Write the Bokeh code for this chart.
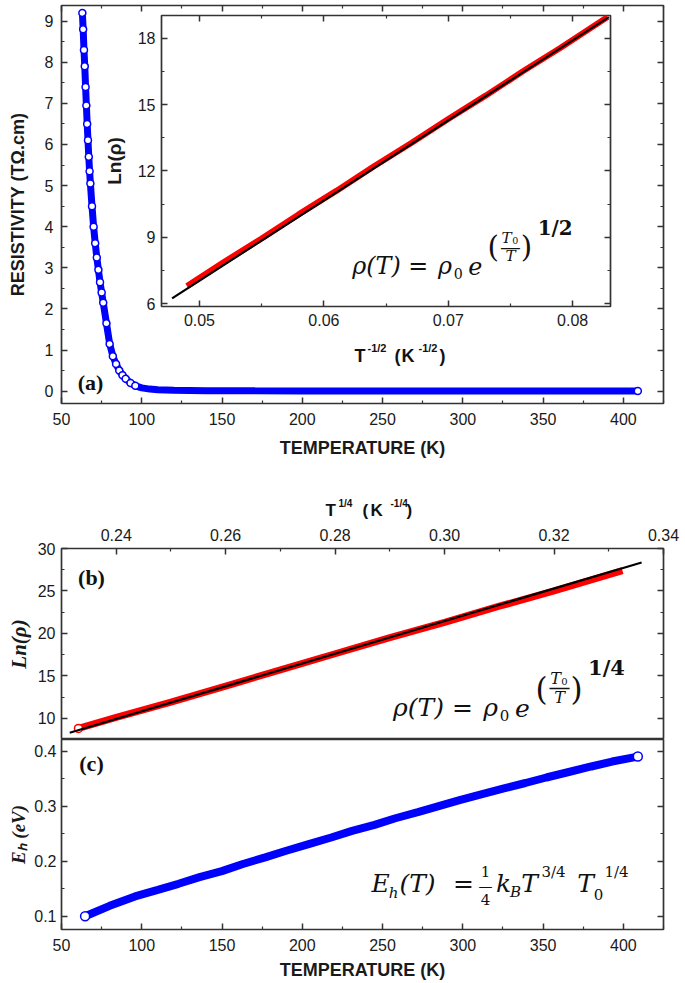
import math
from bokeh.plotting import figure
from bokeh.models import Range1d, LinearAxis, Label, GridBox, FixedTicker, PrintfTickFormatter
from bokeh.embed import file_html
from bokeh.resources import INLINE

# ---------------- data ----------------
temp_a = [63.0, 63.5, 64.0, 64.5, 65.0, 65.5, 66.0, 66.5, 67.0, 67.5, 68.0, 69.0, 70.0,
          71.0, 72.0, 73.0, 74.0, 75.0, 76.0, 78.0, 80.0, 82.0, 84.0, 86.0, 88.0, 90.0,
          93.0, 96.0, 100.0, 105.0, 110.0, 120.0, 140.0, 170.0, 200.0, 250.0, 300.0,
          350.0, 400.0, 409.0]
resistivity_a = [9.20, 8.80, 8.30, 7.90, 7.40, 6.95, 6.50, 6.10, 5.70, 5.35, 5.05, 4.50,
                 4.00, 3.60, 3.25, 2.95, 2.65, 2.40, 2.15, 1.65, 1.15, 0.85, 0.66, 0.50,
                 0.39, 0.30, 0.20, 0.13, 0.08, 0.05, 0.035, 0.02, 0.012, 0.008, 0.006,
                 0.005, 0.004, 0.004, 0.003, 0.003]

inset_x = [0.0490, 0.0520, 0.0550, 0.0580, 0.0610, 0.0640, 0.0670, 0.0700, 0.0730,
           0.0760, 0.0790, 0.0828]
inset_lnrho = [6.80, 7.90, 8.95, 10.05, 11.10, 12.20, 13.25, 14.35, 15.40, 16.50,
               17.55, 18.95]
inset_fit_x = [0.0478, 0.0829]
inset_fit_y = [6.25, 18.95]

b_x = [0.2331, 0.2400, 0.2500, 0.2600, 0.2700, 0.2800, 0.2900, 0.3000, 0.3100,
       0.3200, 0.3325]
b_lnrho = [8.8, 10.1, 11.9, 13.8, 15.7, 17.6, 19.5, 21.3, 23.2, 25.0, 27.4]
b_fit_x = [0.2315, 0.3360]
b_fit_y = [8.3, 28.35]

temp_c = [64.7, 80, 95.8, 110, 122.9, 136, 149.9, 163, 176.9, 190, 204, 218, 231, 245,
          258, 272, 285, 298, 312, 325, 339, 352, 366, 380, 393, 409]
eh_c = [0.100, 0.119, 0.136, 0.148, 0.159, 0.171, 0.182, 0.195, 0.207, 0.219, 0.231,
        0.243, 0.255, 0.266, 0.278, 0.289, 0.300, 0.311, 0.322, 0.332, 0.342, 0.352,
        0.362, 0.372, 0.381, 0.390]

temp_ticks = [50, 100, 150, 200, 250, 300, 350, 400]
res_ticks = [0, 1, 2, 3, 4, 5, 6, 7, 8, 9]
inset_x_ticks = [0.05, 0.06, 0.07, 0.08]
inset_y_ticks = [6, 9, 12, 15, 18]
b_x_ticks = [0.24, 0.26, 0.28, 0.30, 0.32, 0.34]
b_y_ticks = [10, 15, 20, 25, 30]
c_y_ticks = [0.1, 0.2, 0.3, 0.4]

# ---------------- styling helpers ----------------
FRAME = "#333333"
TXT = "#1a1a1a"
SANS = "Liberation Sans"
SERIF = "Liberation Serif"
MATH = "DejaVu Serif"
BLUE = "#0000ff"
RED = "#ff0000"
W, H = 685, 983
FRAME_LEFT, FRAME_BOTTOM = 57, 929   # page position of the shared (aligned) plot frame


def minors(t):
    step = t[1] - t[0]
    return [t[0] - step / 2] + [a + step / 2 for a in t]


def style_axis(ax, ticks, fmt, show=True, fs="16px", standoff=8):
    ax.ticker = FixedTicker(ticks=ticks, minor_ticks=minors(ticks))
    ax.formatter = PrintfTickFormatter(format=fmt)
    ax.axis_line_color = None
    ax.major_tick_in = 6
    ax.major_tick_out = 0
    ax.minor_tick_in = 3
    ax.minor_tick_out = 0
    ax.major_tick_line_color = FRAME
    ax.major_tick_line_width = 1.5
    ax.minor_tick_line_color = FRAME
    ax.minor_tick_line_width = 1.2
    ax.major_label_text_font = SANS
    ax.major_label_text_color = TXT
    if show:
        ax.major_label_text_font_size = fs
        ax.major_label_standoff = standoff
    else:
        ax.major_label_text_font_size = "1px"
        ax.major_label_text_alpha = 0
        ax.major_label_standoff = 0


def title_style(ax, text, size, font=SANS, style="bold", standoff=10):
    ax.axis_label = text
    ax.axis_label_text_font = font
    ax.axis_label_text_font_style = style
    ax.axis_label_text_font_size = size
    ax.axis_label_text_color = TXT
    ax.axis_label_standoff = standoff


def make_fig(w, h, xr, yr, top, right, bottom, left, **kw):
    p = figure(width=w, height=h, x_range=xr, y_range=yr, output_backend="svg",
               toolbar_location=None, min_border_top=top, min_border_right=right,
               min_border_bottom=bottom, min_border_left=left, **kw)
    p.grid.visible = False
    p.outline_line_color = FRAME
    p.outline_line_width = 1.7
    return p


def mirror(p, side, ticks):
    ax = LinearAxis()
    style_axis(ax, ticks, "%g", show=False)
    p.add_layout(ax, side)


# transparent overlay for free-standing texts (its frame gets aligned with the panels)
ov = figure(width=W, height=H, x_range=Range1d(0, 1), y_range=Range1d(0, 1),
            output_backend="svg", toolbar_location=None, min_border=0, title=None,
            x_axis_location=None, y_axis_location=None)
ov.grid.visible = False
ov.outline_line_color = None
ov.background_fill_color = None
ov.border_fill_color = None


def put(px, py, text, size, font=MATH, style="italic", align="center", angle=0.0,
        color="#111111"):
    ov.add_layout(Label(x=px - FRAME_LEFT, y=FRAME_BOTTOM - py, x_units="screen",
                        y_units="screen", text=text, text_font=font,
                        text_font_size=f"{size:.1f}px", text_font_style=style,
                        text_align=align, text_baseline="middle", angle=angle,
                        text_color=color))


def formula_rho(ox, oy, s, exp_text):
    put(ox, oy, "ρ(T)", 25 * s)
    put(ox + 44 * s, oy, "=", 25 * s, style="normal")
    put(ox + 72 * s, oy, "ρ", 25 * s)
    put(ox + 86 * s, oy + 8 * s, "0", 15 * s, style="normal")
    put(ox + 104 * s, oy, "e", 25 * s)
    put(ox + 123 * s, oy - 19 * s, "(", 31 * s, style="normal")
    put(ox + 137 * s, oy - 29 * s, "T", 16 * s)
    put(ox + 146 * s, oy - 26 * s, "0", 10 * s, style="normal")
    put(ox + 141 * s, oy - 20 * s, "—", 22 * s, style="normal")
    put(ox + 141 * s, oy - 10 * s, "T", 16 * s)
    put(ox + 158 * s, oy - 19 * s, ")", 31 * s, style="normal")
    put(ox + 188 * s, oy - 40 * s, exp_text, 21 * s, style="bold")


# ---------------- panel (a) ----------------
pa = make_fig(W, 465, Range1d(50, 425), Range1d(-0.3, 9.38), 2, 22, 62, 57)
style_axis(pa.xaxis[0], temp_ticks, "%d", standoff=9)
title_style(pa.xaxis[0], "TEMPERATURE (K)", "18px", standoff=10)
style_axis(pa.yaxis[0], res_ticks, "%d", standoff=8)
title_style(pa.yaxis[0], "RESISTIVITY (TΩ.cm)", "18px", standoff=14)
mirror(pa, "right", res_ticks)
mirror(pa, "above", temp_ticks)

pa.line(temp_a, resistivity_a, line_color=BLUE, line_width=7)
sel = [i for i, t in enumerate(temp_a) if t <= 96 or i == len(temp_a) - 1]
pa.scatter([temp_a[i] for i in sel], [resistivity_a[i] for i in sel], marker="circle",
           size=7, line_color=BLUE, fill_color="white", line_width=1.5)

# ---------------- inset ----------------
pin = make_fig(532, 358, Range1d(0.04695, 0.08304), Range1d(5.88, 19.02), 5, 10, 60, 61)
pin.background_fill_color = None
pin.border_fill_color = None
style_axis(pin.xaxis[0], inset_x_ticks, "%.2f", standoff=7)
style_axis(pin.yaxis[0], inset_y_ticks, "%d", standoff=6)
title_style(pin.yaxis[0], "Ln(ρ)", "19px", standoff=10)
mirror(pin, "right", inset_y_ticks)
mirror(pin, "above", inset_x_ticks)
pin.line(inset_x, inset_lnrho, line_color=RED, line_width=6)
pin.line(inset_fit_x, inset_fit_y, line_color="black", line_width=2.2)
pin.margin = (10, 0, 0, 100)

# ---------------- panel (b) ----------------
pb = make_fig(W, 274, Range1d(0.23, 0.34), Range1d(7.5, 30), 83, 22, 0, 57,
              x_axis_location="above")
style_axis(pb.xaxis[0], b_x_ticks, "%.2f", standoff=8)
style_axis(pb.yaxis[0], b_y_ticks, "%d", standoff=6)
title_style(pb.yaxis[0], "Ln(ρ)", "21px", font=SERIF, style="bold italic", standoff=4)
mirror(pb, "right", b_y_ticks)
pb.line(b_x, b_lnrho, line_color=RED, line_width=7)
pb.scatter(b_x[:1], b_lnrho[:1], marker="circle", size=8, line_color=RED,
           fill_color="white", line_width=1.5)
pb.line(b_fit_x, b_fit_y, line_color="black", line_width=2.2)

# ---------------- panel (c) ----------------
pc = make_fig(W, 244, Range1d(50, 425), Range1d(0.076, 0.421), 0, 22, 54, 57)
style_axis(pc.xaxis[0], temp_ticks, "%d", standoff=9)
title_style(pc.xaxis[0], "TEMPERATURE (K)", "18px", standoff=6)
style_axis(pc.yaxis[0], c_y_ticks, "%.1f", standoff=5)
title_style(pc.yaxis[0], "Eₕ (eV)", "19px", font=SERIF, style="bold italic", standoff=2)
mirror(pc, "right", c_y_ticks)
pc.line(temp_c, eh_c, line_color=BLUE, line_width=8)
pc.scatter([temp_c[0], temp_c[-1]], [eh_c[0], eh_c[-1]], marker="circle", size=9,
           line_color=BLUE, fill_color="white", line_width=1.5)

# ---------------- free texts ----------------
put(86, 382, "(a)", 22, font=SERIF, style="bold")
put(87, 577, "(b)", 22, font=SERIF, style="bold")
put(87, 763, "(c)", 22, font=SERIF, style="bold")

for px, py, t, sz in [(350, 355, "T", 18), (363, 347, "-1/2", 11), (390, 355, "(", 18),
                      (397, 355, "K", 18), (414, 347, "-1/2", 11), (435, 355, ")", 18)]:
    put(px, py, t, sz, font=SANS, style="bold", align="left")

for px, py, t, sz in [(321, 510, "T", 17), (334, 503, "1/4", 10), (358, 510, "(", 17),
                      (366, 510, "K", 17), (386, 503, "-1/4", 10), (402, 510, ")", 17)]:
    put(px, py, t, sz, font=SANS, style="bold", align="left")

formula_rho(372, 265, 0.95, "1/2")
formula_rho(414, 707, 1.0, "1/4")

ox, oy = 376, 883
for dx, dy, t, sz, st in [(0, 0, "E", 25, "italic"), (13, 9, "h", 15, "italic"),
                          (37, 0, "(T)", 25, "italic"), (83, 0, "=", 25, "normal"),
                          (105, -12, "1", 15, "normal"), (105, 2, "—", 14, "normal"),
                          (105, 16, "4", 15, "normal"), (123, 0, "k", 25, "italic"),
                          (135, 8, "B", 15, "italic"), (149, 0, "T", 25, "italic"),
                          (173, -12, "3/4", 15, "normal"), (205, 0, "T", 25, "italic"),
                          (218, 11, "0", 15, "normal"), (236, -12, "1/4", 15, "normal")]:
    put(ox + dx, oy + dy, t, sz, style=st)

layout = GridBox(children=[(pa, 0, 0), (pin, 0, 0), (pb, 1, 0), (pc, 2, 0),
                           (ov, 0, 0, 3, 1)], spacing=0)

open("out.html", "w").write(file_html(layout, INLINE))
